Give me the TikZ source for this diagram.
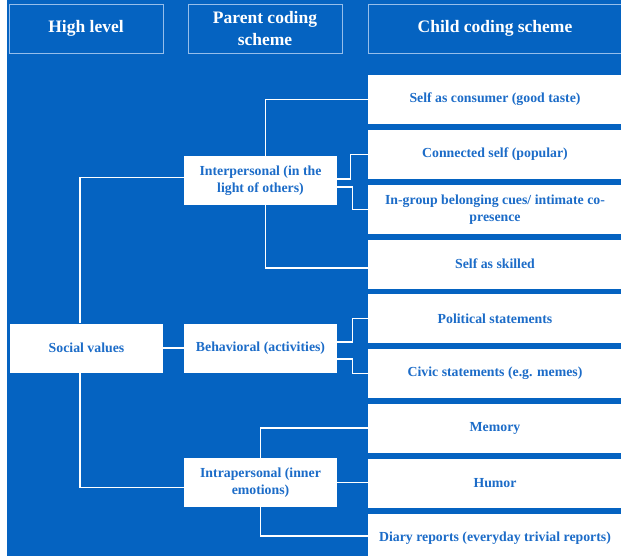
\documentclass[tikz,border=0pt]{standalone}
\usepackage{tikz}
\usepackage{xcolor}
\usepackage{fontspec}
\setmainfont{Liberation Serif}

\definecolor{bgblue}{RGB}{5,99,193}
\definecolor{txtblue}{RGB}{28,108,200}
\definecolor{rimblue}{RGB}{150,190,235}

\tikzset{
  headbox/.style={draw=rimblue, line width=0.8pt, text=white, align=center,
    inner sep=0pt, minimum height=49pt, font=\bfseries\fontsize{17.5}{22}\selectfont},
  whitebox/.style={fill=white, text=txtblue, align=center, inner sep=0pt,
    minimum height=49pt, font=\bfseries\fontsize{13.8}{17}\selectfont},
  parentbox/.style={whitebox, minimum width=153pt},
  childbox/.style={whitebox, minimum width=254pt},
  link/.style={draw=white, line width=1.2pt}
}

\begin{document}
\begin{tikzpicture}[x=1pt,y=-1pt]
\useasboundingbox (0,0) rectangle (621,556);
\clip (0,0) rectangle (621,556);
\fill [white] (0,0) rectangle (621,556);
\fill [bgblue] (7,0) rectangle (621,556);
% column heads
\node [headbox, minimum width=154pt] (hhigh) at (86,28.5) {High level};
\node [headbox, minimum width=154pt] (hparent) at (265,28.5) {Parent coding\\scheme};
\node [headbox, minimum width=254pt] (hchild) at (495,28.5) {Child coding scheme};
% high level
\node [parentbox] (social) at (86.5,348) {Social values};
% parent codes
\node [parentbox] (inter) at (260.5,180.5) {Interpersonal (in the\\light of others)};
\node [parentbox] (behav) at (260.5,348) {Behavioral (activities)};
\node [parentbox] (intra) at (260.5,482.5) {Intrapersonal (inner\\emotions)};
% child codes
\node [childbox] (consumer) at (495,99.5) {Self as consumer (good taste)};
\node [childbox] (popular) at (495,154.5) {Connected self (popular)};
\node [childbox] (ingroup) at (495,209.5) {In-group belonging cues/ intimate co-\\presence};
\node [childbox] (skilled) at (495,264) {Self as skilled};
\node [childbox] (political) at (495,318.5) {Political statements};
\node [childbox] (civic) at (495,373.5) {Civic statements (e.g. memes)};
\node [childbox] (memory) at (495,428) {Memory};
\node [childbox] (humor) at (495,483) {Humor};
\node [childbox] (diary) at (495,538) {Diary reports (everyday trivial reports)};
% high level to parents
\draw [link] ([xshift=-6.5pt]social.north) |- ([yshift=3pt]inter.west);
\draw [link] (social.east) -- (behav.west);
\draw [link] ([xshift=-6.5pt]social.south) |- ([yshift=-5pt]intra.west);
% interpersonal
\draw [link] ([xshift=5pt]inter.north) |- (consumer.west);
\draw [link] ([yshift=1.5pt]inter.east) -- ++(13,0) |- (popular.west);
\draw [link] ([yshift=-6.5pt]inter.east) -- ++(15,0) |- (ingroup.west);
\draw [link] ([xshift=5pt]inter.south) |- ([yshift=-4pt]skilled.west);
% behavioral
\draw [link] ([yshift=6pt]behav.east) -- ++(15,0) |- (political.west);
\draw [link] ([yshift=-11pt]behav.east) -- ++(15,0) |- (civic.west);
% intrapersonal
\draw [link] (intra.north) |- (memory.west);
\draw [link] (intra.east) -- (intra.east -| humor.west);
\draw [link] (intra.south) |- ([yshift=2pt]diary.west);
\end{tikzpicture}
\end{document}
